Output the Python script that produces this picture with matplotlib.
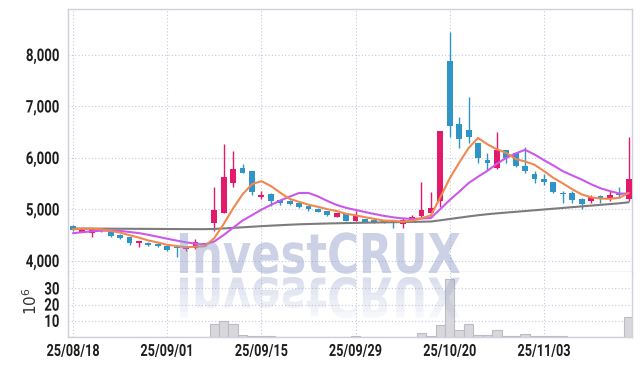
import matplotlib
matplotlib.use("Agg")
import matplotlib.pyplot as plt
import numpy as np
import pandas as pd
from matplotlib import font_manager
from matplotlib.patheffects import AbstractPathEffect
from matplotlib.transforms import Affine2D, Bbox

# ---------------- data ----------------
dates = ["25/08/18", "25/08/19", "25/08/20", "25/08/21", "25/08/22",
         "25/08/25", "25/08/26", "25/08/27", "25/08/28", "25/08/29",
         "25/09/01", "25/09/02", "25/09/03", "25/09/04", "25/09/05",
         "25/09/08", "25/09/09", "25/09/10", "25/09/11", "25/09/12",
         "25/09/15", "25/09/16", "25/09/17", "25/09/18", "25/09/19",
         "25/09/22", "25/09/23", "25/09/24", "25/09/25", "25/09/26",
         "25/09/29", "25/09/30", "25/10/01", "25/10/02", "25/10/10",
         "25/10/13", "25/10/14", "25/10/15", "25/10/16", "25/10/17",
         "25/10/20", "25/10/21", "25/10/22", "25/10/23", "25/10/24",
         "25/10/27", "25/10/28", "25/10/29", "25/10/30", "25/10/31",
         "25/11/03", "25/11/04", "25/11/05", "25/11/06", "25/11/07",
         "25/11/10", "25/11/11", "25/11/12", "25/11/13", "25/11/14"]

opens = [4670, 4570, 4550, 4600, 4590, 4510, 4460, 4355, 4355, 4335,
         4290, 4260, 4230, 4250, 4310, 4745, 4940, 5520, 5805, 5745,
         5250, 5310, 5180, 5165, 5130, 5070, 5010, 4970, 4860, 4905,
         4785, 4815, 4790, 4775, 4775, 4720, 4785, 4875, 4925, 5165,
         7885, 6660, 6545, 6285, 5960, 5815, 6150, 6090, 5845, 5690,
         5590, 5535, 5325, 5315, 5210, 5170, 5260, 5205, 5285, 5200]
highs = [4690, 4625, 4620, 4610, 4600, 4515, 4465, 4395, 4360, 4340,
         4300, 4270, 4278, 4420, 4350, 5440, 6270, 6130, 5883, 5750,
         5360, 5320, 5190, 5180, 5140, 5075, 5020, 4975, 4940, 4910,
         4975, 4820, 4795, 4790, 4785, 4830, 4890, 5530, 5345, 6530,
         8450, 6800, 7190, 6300, 6090, 6500, 6160, 6120, 6220, 5750,
         5680, 5540, 5365, 5360, 5215, 5280, 5280, 5365, 5430, 6400]
lows = [4590, 4560, 4460, 4570, 4470, 4430, 4310, 4278, 4290, 4280,
        4200, 4083, 4200, 4230, 4300, 4590, 4930, 5430, 5700, 5290,
        5205, 5070, 5080, 5090, 5020, 4965, 4950, 4870, 4850, 4770,
        4775, 4750, 4740, 4740, 4645, 4635, 4760, 4860, 4850, 5050,
        6400, 6200, 6285, 5910, 5770, 5780, 5910, 5830, 5700, 5510,
        5476, 5315, 5130, 5130, 5005, 5130, 5130, 5170, 5215, 5160]
closes = [4600, 4615, 4615, 4590, 4490, 4450, 4355, 4390, 4305, 4300,
          4215, 4250, 4265, 4360, 4345, 4990, 5630, 5785, 5715, 5340,
          5280, 5165, 5130, 5115, 5055, 5000, 4960, 4900, 4930, 4785,
          4870, 4760, 4745, 4760, 4765, 4790, 4850, 4990, 5030, 6525,
          6630, 6365, 6415, 6005, 5910, 6155, 6000, 5835, 5755, 5600,
          5540, 5340, 5300, 5185, 5105, 5250, 5220, 5280, 5275, 5590]
# closes before the visible window (needed for the moving averages)
prior_closes = [4420, 4450, 4470, 4480, 4505, 4560, 4610, 4640, 4665]

# long moving average (gray line)
ma_long = [4630, 4630, 4629, 4628, 4627, 4626, 4625, 4624, 4623, 4622,
           4621, 4620, 4619, 4618, 4618, 4622, 4632, 4643, 4654, 4665,
           4676, 4686, 4695, 4704, 4712, 4718, 4723, 4728, 4732, 4736,
           4740, 4744, 4747, 4750, 4753, 4756, 4759, 4762, 4766, 4790,
           4815, 4840, 4865, 4888, 4908, 4925, 4940, 4955, 4970, 4985,
           5000, 5015, 5030, 5045, 5060, 5075, 5090, 5105, 5120, 5140]

# volume (millions of shares)
volumes = [0.1, 0.1, 0.1, 0.1, 0.1, 0.1, 0.1, 0.1, 0.1, 0.1,
           0.1, 0.1, 0.1, 0.1, 0.1, 7.9, 9.7, 7.9, 1.2, 0.6,
           0.6, 0.6, 0.1, 0.1, 0.1, 0.1, 0.1, 0.1, 0.1, 0.1,
           0.6, 0.1, 0.1, 0.1, 0.1, 0.1, 0.1, 2.6, 0.6, 7.5,
           35.8, 4.2, 7.9, 1.2, 1.2, 4.2, 0.6, 0.6, 1.8, 0.6,
           0.6, 0.6, 0.5, 0.1, 0.1, 0.1, 0.1, 0.1, 0.1, 12.1]

price_ticks = [4000, 5000, 6000, 7000, 8000]
volume_ticks = [10, 20, 30]
watermark = "InvestCRUX"

# ---------------- styling ----------------
RED = "#e3196c"
BLUE = "#2e95c6"
ORANGE = "#f08850"
PURPLE = "#cc58ea"
GRAY = "#7c7c7c"
GRID = "#c6c8dd"
SPINE = "#cfd0da"
TXT = "#1e1e1e"


def pick(fams):
    for f in fams:
        try:
            font_manager.findfont(font_manager.FontProperties(family=f),
                                  fallback_to_default=False)
            return f
        except Exception:
            pass
    return "DejaVu Sans"


TICKFONT = pick(["Liberation Sans Narrow", "Roboto", "Liberation Sans", "DejaVu Sans"])


class Warp(AbstractPathEffect):
    """Draw a text path scaled horizontally (about an anchor), optionally
    mirrored below its baseline with a vertical fade."""

    def __init__(self, sx=1.0, anchor="center", flip=False, gap=0.0, alphas=None):
        super().__init__()
        self.sx, self.anchor = sx, anchor
        self.flip, self.gap, self.alphas = flip, gap, alphas

    def draw_path(self, renderer, gc, tpath, affine, rgbFace=None):
        bb = tpath.get_extents(affine)
        if self.anchor == "right":
            cx = bb.x1
        elif self.anchor == "left":
            cx = bb.x0
        else:
            cx = 0.5 * (bb.x0 + bb.x1)
        y0 = bb.y0
        sy = -1.0 if self.flip else 1.0
        t = affine + Affine2D().translate(-cx, -y0).scale(self.sx, sy) \
            .translate(cx, y0 - (self.gap if self.flip else 0.0))
        if not self.alphas:
            renderer.draw_path(gc, tpath, t, rgbFace)
            return
        h = bb.height
        top = y0 - self.gap
        n = len(self.alphas)
        for k, a in enumerate(self.alphas):
            g = renderer.new_gc()
            g.copy_properties(gc)
            g.set_alpha(a)
            ya = top - h * (k + 1) / n
            yb = top - h * k / n
            g.set_clip_rectangle(Bbox.from_extents(bb.x0 - 200, ya, bb.x1 + 200, yb))
            renderer.draw_path(g, tpath, t, rgbFace)
            g.restore()


# ---------------- figure ----------------
W, H = 642, 366
fig = plt.figure(figsize=(W / 100, H / 100), dpi=100)
L, R = 68, 632
ax = fig.add_axes([L / W, (H - 272) / H, (R - L) / W, (272 - 9) / H])
axv = fig.add_axes([L / W, (H - 337) / H, (R - L) / W, (337 - 272) / H], sharex=ax)

n = len(closes)
x = np.arange(n)
o = np.array(opens, float)
c = np.array(closes, float)
hi = np.array(highs, float)
lo = np.array(lows, float)
up = c >= o
cols = np.where(up, RED, BLUE)

# moving averages
full = pd.Series(prior_closes + closes, dtype=float)
ma5 = full.rolling(5).mean().values[len(prior_closes):]
ma10 = full.rolling(10).mean().values[len(prior_closes):]

# candles
ax.vlines(x, lo, hi, colors=cols, lw=1.0, zorder=3)
body_b = np.minimum(o, c)
body_h = np.maximum(np.abs(c - o), 28)
ax.bar(x, body_h, bottom=body_b, width=0.62, color=cols, linewidth=0, zorder=4)

ax.plot(x, ma_long, color=GRAY, lw=1.5, zorder=5, solid_capstyle="round")
ax.plot(x, ma10, color=PURPLE, lw=1.5, zorder=5, solid_capstyle="round")
ax.plot(x, ma5, color=ORANGE, lw=1.5, zorder=6, solid_capstyle="round")

# volume
axv.bar(x, volumes, width=1.0, color="#d7d7dc", edgecolor="#bcbcc6",
        linewidth=0.8, zorder=3)

# axes limits / ticks
ax.set_xlim(-0.53, 59.35)
ax.set_ylim(3786, 8893)
axv.set_ylim(0, 40.2)

tick_pos = list(range(0, n, 10))
axv.set_xticks(tick_pos)
axv.set_xticklabels([dates[i] for i in tick_pos])
ax.set_yticks(price_ticks)
ax.set_yticklabels([f"{v:,}" for v in price_ticks])
axv.set_yticks(volume_ticks)
axv.set_yticklabels([str(v) for v in volume_ticks])
plt.setp(ax.get_xticklabels(), visible=False)

for a in (ax, axv):
    a.grid(True, linestyle=(0, (1, 2)), color=GRID, linewidth=0.8, zorder=0)
    a.set_axisbelow(True)
    a.tick_params(length=0, colors=TXT, pad=6)
    for lab in a.get_yticklabels():
        lab.set_fontfamily(TICKFONT)
        lab.set_fontweight("bold")
        lab.set_fontsize(12.5)
        lab.set_path_effects([Warp(sx=0.76, anchor="right")])
    for lab in a.get_xticklabels():
        lab.set_fontfamily(TICKFONT)
        lab.set_fontweight("bold")
        lab.set_fontsize(12)
        lab.set_path_effects([Warp(sx=0.76, anchor="center")])
    for s in a.spines.values():
        s.set_color(SPINE)
        s.set_linewidth(1.0)
axv.spines["top"].set_visible(False)
axv.tick_params(axis="x", pad=5)

fig.text(31 / W, (H - 301) / H, r"$10^6$", rotation=90, ha="center",
         va="center", fontsize=11, color="#333333")

# watermark with reflection
wm = fig.text(318 / W, (H - 273) / H, watermark, ha="center", va="baseline",
              fontsize=39.5, fontweight="bold", family="DejaVu Sans",
              color="#8e9bc8", alpha=0.45, zorder=10)
wm.set_path_effects([
    Warp(sx=0.79),
    Warp(sx=0.79, flip=True, gap=3.0,
         alphas=[0.32, 0.28, 0.24, 0.20, 0.16, 0.12, 0.08]),
])

fig.savefig("out.png", dpi=100, facecolor="white")
